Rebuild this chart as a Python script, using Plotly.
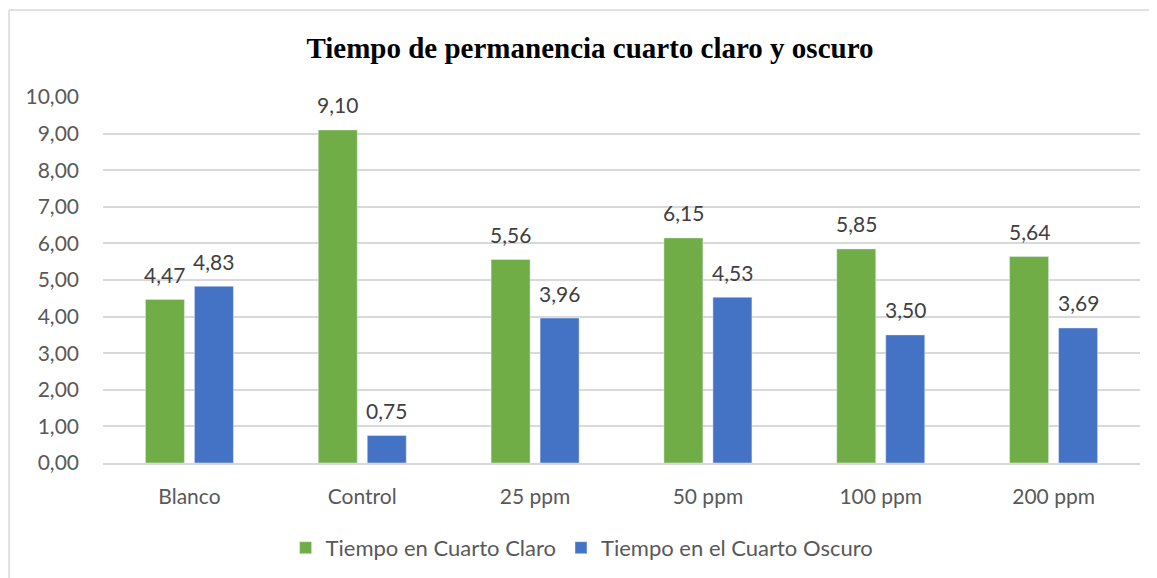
import plotly.graph_objects as go

categories = ["Blanco", "Control", "25 ppm", "50 ppm", "100 ppm", "200 ppm"]
claro = [4.47, 9.10, 5.56, 6.15, 5.85, 5.64]
oscuro = [4.83, 0.75, 3.96, 4.53, 3.50, 3.69]
series_names = ["Tiempo en Cuarto Claro", "Tiempo en el Cuarto Oscuro"]
tick_vals = [0, 1, 2, 3, 4, 5, 6, 7, 8, 9, 10]

FONT = "Lato"
FS = 21
colors = ["#70AD47", "#4472C4"]
fig = go.Figure()
for name, vals, col in [(series_names[0], claro, colors[0]), (series_names[1], oscuro, colors[1])]:
    fig.add_trace(go.Bar(x=categories, y=vals, name=name, marker_color=col))

# data labels
for vals, xs in [(claro, -24.5), (oscuro, 24.5)]:
    for c, v in zip(categories, vals):
        fig.add_annotation(x=c, y=v, text=f"{v:.2f}".replace(".", ","), showarrow=False,
                           xshift=xs, yshift=25, yanchor="middle",
                           font=dict(family=FONT, size=FS, color="#404040"))

fig.update_layout(
    width=1157, height=578,
    margin=dict(l=95, r=25, t=89, b=123),
    paper_bgcolor="white", plot_bgcolor="white",
    separators=",.",
    bargap=0.433, bargroupgap=0.204,
    title=dict(text="<b>Tiempo de permanencia cuarto claro y oscuro</b>",
               x=0.503, xanchor="center", y=0.931, yanchor="middle", yref="container",
               font=dict(family="Liberation Serif", size=29, color="black")),
    legend=dict(orientation="h", x=0.462, xanchor="center", y=-0.232, yanchor="middle",
                font=dict(family=FONT, size=22, color="#595959"), itemwidth=30),
    showlegend=True,
)
fig.update_yaxes(range=[0, 10], tickvals=tick_vals, tickformat=".2f",
                 showgrid=True, gridcolor="#D9D9D9", gridwidth=1.5, zeroline=False,
                 tickfont=dict(family=FONT, size=FS, color="#595959"), ticks="", ticklen=0,
                 ticklabelstandoff=23)
fig.update_xaxes(showline=True, linecolor="#D9D9D9", linewidth=1.5, ticks="",
                 tickfont=dict(family=FONT, size=FS, color="#595959"), ticklabelstandoff=14)
# chart border (left and top)
fig.add_shape(type="line", xref="paper", yref="paper", x0=-0.0906, x1=-0.0906, y0=1.2377, y1=-0.4,
              line=dict(color="#D9D9D9", width=1.5))
fig.add_shape(type="line", xref="paper", yref="paper", x0=-0.0906, x1=1.03, y0=1.2377, y1=1.2377,
              line=dict(color="#D9D9D9", width=1.5))
fig.write_html("out.html")
